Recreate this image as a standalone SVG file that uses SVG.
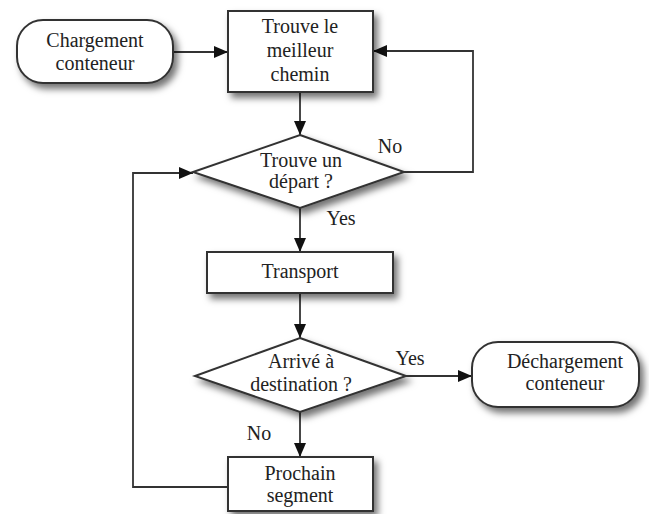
<svg xmlns="http://www.w3.org/2000/svg" width="649" height="514" viewBox="0 0 649 514">
  <style>
    .node { fill: #ffffff; stroke: #333333; stroke-width: 2; filter: url(#shadow); }
    .lbl { font-family: "Liberation Serif", "Times New Roman", Times, Tinos, "Nimbus Roman", "Nimbus Roman No9 L", FreeSerif, "DejaVu Serif", "Noto Serif", serif; font-size: 20px; fill: #222222; text-anchor: middle; }
    .edge { fill: none; stroke: #333333; stroke-width: 1.8; marker-end: url(#arrow); }
  </style>
  <defs>
    <filter id="shadow" x="-20%" y="-20%" width="150%" height="160%">
      <feDropShadow dx="4" dy="5" stdDeviation="3.5" flood-color="#000000" flood-opacity="0.55"/>
    </filter>
    <marker id="arrow" markerUnits="userSpaceOnUse" markerWidth="14" markerHeight="12" refX="14" refY="6" orient="auto">
      <path d="M0,0 L14,6 L0,12 z" fill="#111111"/>
    </marker>
  </defs>
  <rect width="649" height="514" fill="#ffffff"/>

  <!-- connectors and their branch labels -->
  <g id="connectors">
    <path class="edge" d="M173,52 H228"/>
    <path class="edge" d="M300,92 V135"/>
    <path class="edge" d="M404,172 H473 V51 H373"/>
    <path class="edge" d="M300,208 V252"/>
    <path class="edge" d="M300,293 V338"/>
    <path class="edge" d="M406,376 H472"/>
    <path class="edge" d="M300,412 V457"/>
    <path class="edge" d="M228,487 H133 V173 H193"/>
    <text class="lbl" x="390" y="153">No</text>
    <text class="lbl" x="341" y="225">Yes</text>
    <text class="lbl" x="410" y="365">Yes</text>
    <text class="lbl" x="259" y="440">No</text>
  </g>

  <g id="chargement">
    <rect class="node" x="17" y="20" width="156" height="63" rx="26" ry="26"/>
    <text class="lbl" x="95" y="47">Chargement</text>
    <text class="lbl" x="95" y="70">conteneur</text>
  </g>

  <g id="meilleur-chemin">
    <rect class="node" x="228" y="11" width="145" height="81"/>
    <text class="lbl" x="300" y="33">Trouve le</text>
    <text class="lbl" x="300" y="57">meilleur</text>
    <text class="lbl" x="300" y="81">chemin</text>
  </g>

  <g id="trouve-depart">
    <polygon class="node" points="300,135 404,172 300,208 193,172"/>
    <text class="lbl" x="301" y="167">Trouve un</text>
    <text class="lbl" x="301" y="188">départ ?</text>
  </g>

  <g id="transport">
    <rect class="node" x="207" y="252" width="186" height="41"/>
    <text class="lbl" x="300" y="278">Transport</text>
  </g>

  <g id="arrive-destination">
    <polygon class="node" points="300,338 406,376 300,412 195,376"/>
    <text class="lbl" x="301" y="368">Arrivé à</text>
    <text class="lbl" x="301" y="391">destination ?</text>
  </g>

  <g id="dechargement">
    <rect class="node" x="472" y="342" width="167" height="65" rx="26" ry="26"/>
    <text class="lbl" x="565" y="368">Déchargement</text>
    <text class="lbl" x="565" y="390">conteneur</text>
  </g>

  <g id="prochain-segment">
    <rect class="node" x="228" y="457" width="145" height="54"/>
    <text class="lbl" x="300" y="480">Prochain</text>
    <text class="lbl" x="300" y="502">segment</text>
  </g>
</svg>
